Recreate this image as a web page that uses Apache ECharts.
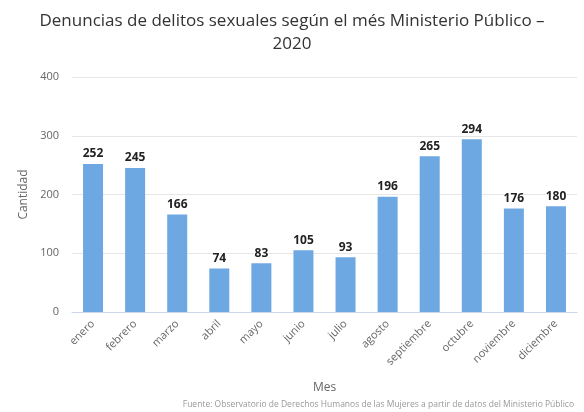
<!DOCTYPE html>
<html>
<head>
<meta charset="utf-8">
<script src="https://cdn.jsdelivr.net/npm/echarts@6/dist/echarts.min.js"></script>
<style>
html,body{margin:0;padding:0;background:#fff;}
#c{width:584px;height:412px;}
</style>
</head>
<body>
<div id="c"></div>
<script>
const categories = ['enero','febrero','marzo','abril','mayo','junio','julio','agosto','septiembre','octubre','noviembre','diciembre'];
const values = [252,245,166,74,83,105,93,196,265,294,176,180];
const yTicks = [0,100,200,300,400];

const chart = echarts.init(document.getElementById('c'), null, {renderer:'canvas'});
chart.setOption({
  animation:false,
  backgroundColor:'#ffffff',
  textStyle:{fontFamily:'"Open Sans", sans-serif'},
  title:{
    text:'Denuncias de delitos sexuales según el més Ministerio Público –\n2020',
    left:'center', top:5,
    textStyle:{fontFamily:'"Open Sans", sans-serif', fontSize:17, fontWeight:'normal', color:'#333333', lineHeight:23}
  },
  graphic:[{
    type:'text', right:10, top:400,
    style:{text:'Fuente: Observatorio de Derechos Humanos de las Mujeres a partir de datos del Ministerio Público',
      fill:'#999999', font:'8.5px "Open Sans", sans-serif'}
  }],
  grid:{left:72, right:7, top:77, bottom:100},
  xAxis:{
    type:'category', data:categories,
    name:'Mes', nameLocation:'middle', nameGap:70,
    nameTextStyle:{color:'#666666', fontSize:12},
    axisLine:{lineStyle:{color:'#ccd6eb'}},
    axisTick:{show:false},
    axisLabel:{rotate:45, color:'#666666', fontSize:11, margin:10, interval:0}
  },
  yAxis:{
    type:'value', min:yTicks[0], max:yTicks[yTicks.length-1], interval:100,
    name:'Cantidad', nameLocation:'middle', nameGap:41,
    nameTextStyle:{color:'#666666', fontSize:12},
    axisLine:{show:false}, axisTick:{show:false},
    axisLabel:{color:'#666666', fontSize:11, margin:13},
    splitLine:{lineStyle:{color:'#e6e6e6'}}
  },
  series:[{
    type:'bar', data:values, barWidth:20,
    itemStyle:{color:'#6ea8e2'},
    label:{show:true, position:'top', distance:4, color:'#222222', fontSize:12, fontWeight:'bold',
      textBorderColor:'#ffffff', textBorderWidth:2}
  }]
});
</script>
</body>
</html>
